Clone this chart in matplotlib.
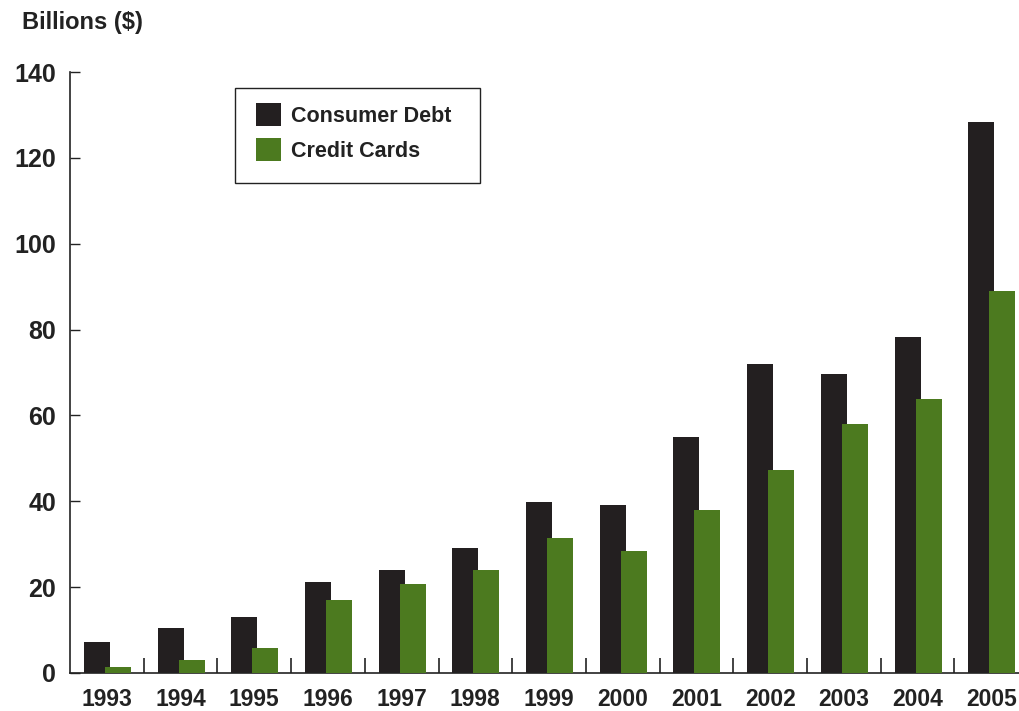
import numpy as np
import matplotlib
matplotlib.use("Agg")
import matplotlib.pyplot as plt
import matplotlib.patches as mpatches

years = ["1993", "1994", "1995", "1996", "1997", "1998", "1999",
         "2000", "2001", "2002", "2003", "2004", "2005"]
consumer_debt = [7.2, 10.5, 13.0, 21.2, 23.9, 29.2, 39.8,
                 39.1, 55.0, 72.0, 69.6, 78.3, 128.3]
credit_cards = [1.5, 3.1, 5.8, 17.1, 20.7, 23.9, 31.4,
                28.4, 38.0, 47.3, 58.0, 63.8, 89.1]
y_ticks = [0, 20, 40, 60, 80, 100, 120, 140]

BLACK = "#231f20"
GREEN = "#4c7a1f"
INK = "#222222"

plt.rcParams["font.family"] = ["Liberation Sans", "DejaVu Sans"]
plt.rcParams["font.weight"] = "bold"

W, H = 1020, 711
fig = plt.figure(figsize=(W / 100, H / 100), dpi=100)
ax = fig.add_axes([70 / W, 38 / H, 950 / W, 601 / H])

x = np.arange(len(years))
w = 0.353
ax.bar(x - 0.136, consumer_debt, width=w, color=BLACK, zorder=2)
ax.bar(x + 0.149, credit_cards, width=w, color=GREEN, zorder=3)

ax.set_xlim(-0.5, -0.5 + 950 / 73.7)
ax.set_ylim(0, 140)

ax.spines["top"].set_visible(False)
ax.spines["right"].set_visible(False)
for s in ("left", "bottom"):
    ax.spines[s].set_linewidth(1.2)
    ax.spines[s].set_color(INK)

ax.set_yticks(y_ticks)
ax.set_yticklabels([str(t) for t in y_ticks])
ax.tick_params(axis="y", direction="in", length=7, width=1, pad=10,
               labelsize=18, colors=INK)

ax.set_xticks(x)
ax.set_xticklabels(years)
ax.tick_params(axis="x", which="major", length=0, pad=11, labelsize=16.5,
               colors=INK)
ax.set_xticks(np.arange(0.5, len(years) - 0.5, 1), minor=True)
ax.tick_params(axis="x", which="minor", direction="in", length=11, width=1.2,
               colors=INK)

fig.text(22 / W, 1 - 22 / H, "Billions ($)", fontsize=17,
         fontweight="bold", va="center", ha="left", color=INK)

# legend entries without frame, box drawn separately (wider on the right)
handles = [mpatches.Patch(facecolor=BLACK, label="Consumer Debt"),
           mpatches.Patch(facecolor=GREEN, label="Credit Cards")]
leg = ax.legend(handles=handles, loc="upper left",
                bbox_to_anchor=(256 / W, 1 - 103 / H),
                bbox_transform=fig.transFigure, frameon=False, fontsize=15.5,
                handlelength=1.14, handleheight=1.25, handletextpad=0.5,
                borderpad=0, borderaxespad=0, labelspacing=0.55)
for t in leg.get_texts():
    t.set_color(INK)

box = mpatches.Rectangle((235 / W, 1 - 183 / H), 245 / W, 95 / H,
                         transform=fig.transFigure, fill=False,
                         edgecolor=INK, linewidth=1.0)
fig.patches.append(box)

fig.savefig("out.png", dpi=100)
